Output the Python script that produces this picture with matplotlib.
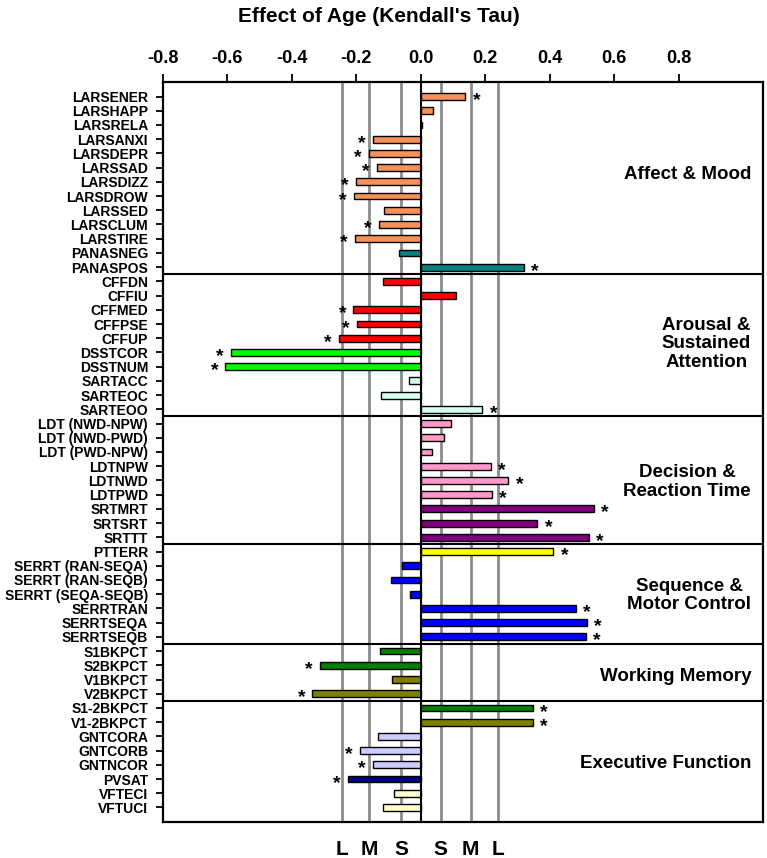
"""
Effect of age (Kendall's tau) per test measure, grouped by domain.
"""

import numpy as np
from matplotlib import pyplot as plt

plt.rcParams['font.family'] = ['Liberation Sans', 'DejaVu Sans']
plt.rcParams['font.weight'] = 'bold'

# ---- data (top to bottom) ----
labels = ['LARSENER', 'LARSHAPP', 'LARSRELA', 'LARSANXI', 'LARSDEPR', 'LARSSAD',
          'LARSDIZZ', 'LARSDROW', 'LARSSED', 'LARSCLUM', 'LARSTIRE', 'PANASNEG',
          'PANASPOS',
          'CFFDN', 'CFFIU', 'CFFMED', 'CFFPSE', 'CFFUP', 'DSSTCOR', 'DSSTNUM',
          'SARTACC', 'SARTEOC', 'SARTEOO',
          'LDT (NWD-NPW)', 'LDT (NWD-PWD)', 'LDT (PWD-NPW)', 'LDTNPW', 'LDTNWD',
          'LDTPWD', 'SRTMRT', 'SRTSRT', 'SRTTT',
          'PTTERR', 'SERRT (RAN-SEQA)', 'SERRT (RAN-SEQB)', 'SERRT (SEQA-SEQB)',
          'SERRTRAN', 'SERRTSEQA', 'SERRTSEQB',
          'S1BKPCT', 'S2BKPCT', 'V1BKPCT', 'V2BKPCT',
          'S1-2BKPCT', 'V1-2BKPCT', 'GNTCORA', 'GNTCORB', 'GNTNCOR', 'PVSAT',
          'VFTECI', 'VFTUCI']

tau = [0.139, 0.040, 0.005, -0.148, -0.160, -0.136,
       -0.200, -0.207, -0.114, -0.129, -0.202, -0.067,
       0.321,
       -0.117, 0.109, -0.208, -0.198, -0.252, -0.589, -0.605,
       -0.036, -0.122, 0.192,
       0.095, 0.074, 0.037, 0.219, 0.272,
       0.222, 0.538, 0.362, 0.521,
       0.412, -0.056, -0.092, -0.032,
       0.481, 0.516, 0.513,
       -0.125, -0.312, -0.087, -0.335,
       0.348, 0.348, -0.133, -0.187, -0.148, -0.226,
       -0.082, -0.117]

signif = [1, 0, 0, 1, 1, 1,
          1, 1, 0, 1, 1, 0,
          1,
          0, 0, 1, 1, 1, 1, 1,
          0, 0, 1,
          0, 0, 0, 1, 1,
          1, 1, 1, 1,
          1, 0, 0, 0,
          1, 1, 1,
          0, 1, 0, 1,
          1, 1, 0, 1, 1, 1,
          0, 0]

colors = ['#F7915A'] * 11 + ['#0A8080'] * 2 + \
         ['#FF0000'] * 5 + ['#00FF00'] * 2 + ['#D4FFEE'] * 3 + \
         ['#FF99CC'] * 6 + ['#800080'] * 3 + \
         ['#FFFF00'] + ['#0000FF'] * 6 + \
         ['#008000', '#008000', '#808000', '#808000'] + \
         ['#008000', '#808000'] + ['#CCCCFF'] * 3 + ['#000080'] + ['#FFFFCC'] * 2

groups      = ['Affect & Mood', 'Arousal &\nSustained\nAttention',
               'Decision &\nReaction Time', 'Sequence &\nMotor Control',
               'Working Memory', 'Executive Function']
group_sizes = [13, 10, 9, 7, 4, 8]

xticks       = [-0.8, -0.6, -0.4, -0.2, 0.0, 0.2, 0.4, 0.6, 0.8]
xtick_labels = ['-0.8', '-0.6', '-0.4', '-0.2', '0.0', '0.2', '0.4', '0.6', '0.8']

# effect size thresholds (small / medium / large)
thresh       = [-0.243, -0.16, -0.06, 0.063, 0.155, 0.241]
thresh_label = ['L', 'M', 'S', 'S', 'M', 'L']

# ---- plot ----
fig = plt.figure(figsize=(7.67, 8.58), dpi=100)
ax = fig.add_axes([0.2119, 0.0423, 0.7825, 0.8618])

y = np.arange(len(labels))
ax.barh(y, tau, height=0.48, color=colors, edgecolor='black', linewidth=1.0, zorder=3)

for xv in thresh:
  ax.axvline(xv, color='#8c8c8c', lw=2.0, zorder=1)
ax.axvline(0, color='black', lw=1.5, zorder=4)

# significance stars
for yy, v, s in zip(y, tau, signif):
  if s:
    ax.annotate('*', (v, yy), xytext=(8 if v > 0 else -8, -3), textcoords='offset points',
                ha='center', va='center', fontsize=14, fontweight='bold', zorder=5)

# group separators and labels
ends = np.cumsum(group_sizes)
for e in ends[:-1]:
  ax.axhline(e - 0.5, color='black', lw=1.5, zorder=4)
label_rows = [5.5, 17.4, 27.1, 35.1, 40.8, 46.9]
for g, r in zip(groups, label_rows):
  ax.text(1.025, r, g, ha='right', va='center', multialignment='center',
          fontsize=13.5, fontweight='bold', linespacing=1.1)

ax.set_xlim(-0.8, 1.061)
ax.set_ylim(len(labels), -1)

# top axis with numbers
ax.xaxis.tick_top()
ax.set_xticks(xticks)
ax.set_xticklabels(xtick_labels)
ax.tick_params(axis='x', which='major', length=6, width=1.3, pad=5, labelsize=13)

# bottom labels for effect size lines
sec = ax.secondary_xaxis('bottom')
sec.set_xticks(thresh)
sec.set_xticklabels(thresh_label)
sec.tick_params(length=0, pad=13, labelsize=15)
sec.spines['bottom'].set_visible(False)

ax.set_yticks(y)
ax.set_yticklabels(labels, fontsize=10, fontweight='bold')
ax.tick_params(axis='y', length=5.4, width=1.3, pad=5)

for sp in ax.spines.values():
  sp.set_linewidth(1.6)

fig.text(0.494, 0.974, "Effect of Age (Kendall's Tau)", ha='center', va='baseline',
         fontsize=15, fontweight='bold')

fig.savefig('out.png', dpi=100)
